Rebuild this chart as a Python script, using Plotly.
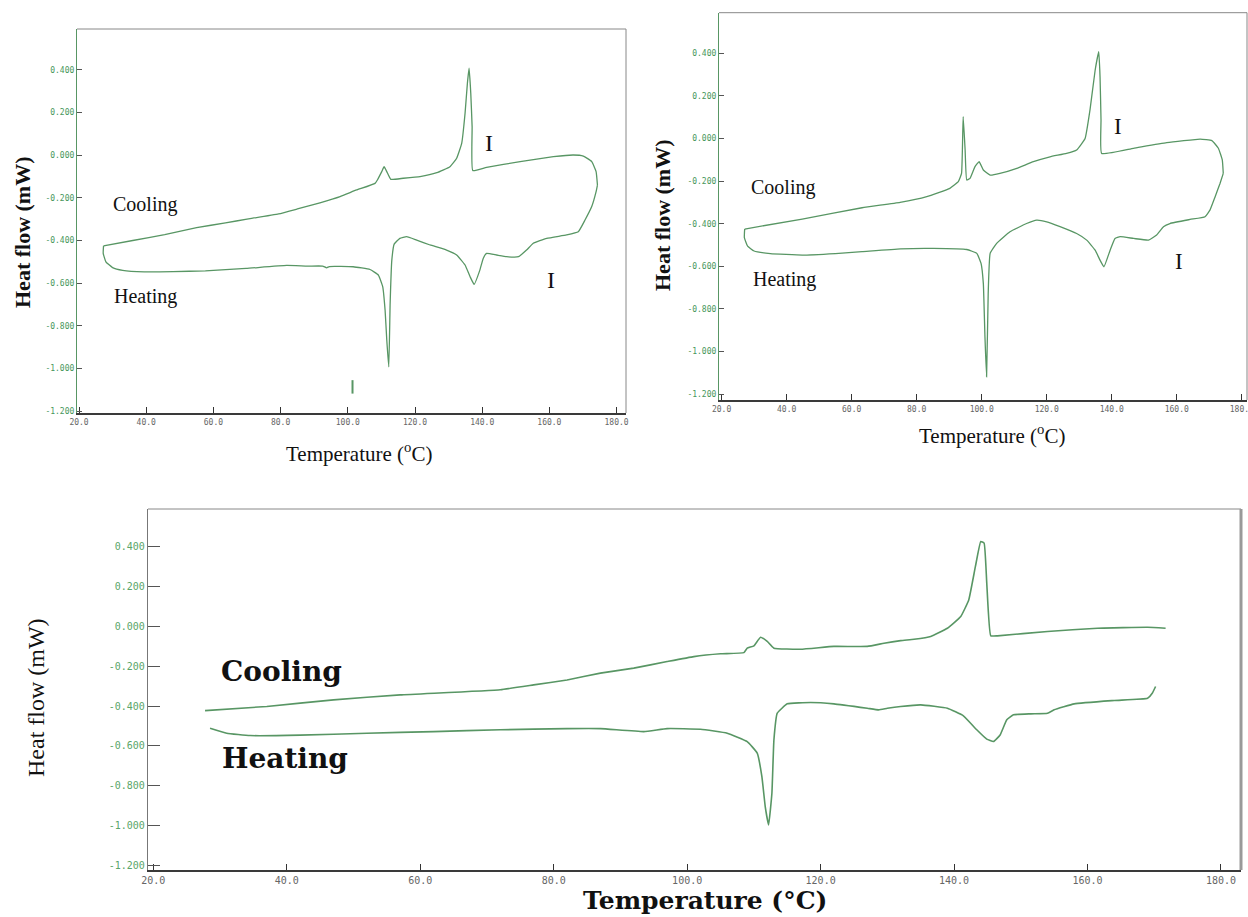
import plotly.graph_objects as go

# ---------------- data (temperature in °C, heat flow in mW) ----------------
# Panel 1 (top-left)
p1_heat_T = [27.3, 27.2, 28.0, 30.0, 33.0, 39.4, 48.0, 57.6, 69.7, 81.8, 88.0, 92.5, 93.7, 94.5,
             101.6, 106.6, 109.1, 110.4, 111.1, 111.6, 112.2, 112.6, 113.1, 113.8, 115.5, 117.5,
             120.5, 124.5, 129.4, 132.4, 134.9, 136.4, 137.6, 139.3, 140.3, 141.3, 144.3, 147.3,
             150.8, 153.2, 155.2, 159.2, 165.1, 168.6, 170.6, 172.6, 173.9, 174.3]
p1_heat_HF = [-0.425, -0.46, -0.50, -0.527, -0.540, -0.547, -0.546, -0.542, -0.531, -0.517, -0.520,
              -0.520, -0.528, -0.522, -0.523, -0.536, -0.562, -0.617, -0.727, -0.867, -0.993,
              -0.695, -0.492, -0.417, -0.390, -0.382, -0.398, -0.421, -0.445, -0.468, -0.515,
              -0.570, -0.606, -0.539, -0.484, -0.460, -0.468, -0.476, -0.476, -0.445, -0.413,
              -0.390, -0.374, -0.359, -0.304, -0.241, -0.171, -0.140]
p1_cool_T = [174.3, 173.9, 172.6, 170.1, 167.1, 161.2, 151.3, 141.3, 137.2, 137.0, 136.6, 136.1,
             135.6, 134.9, 133.9, 132.4, 130.4, 126.5, 121.5, 116.5, 112.8, 111.6, 110.8, 110.1,
             108.8, 108.1, 102.6, 97.7, 91.7, 85.0, 79.4, 70.0, 63.6, 55.0, 45.5, 36.0, 27.3]
p1_cool_HF = [-0.140, -0.077, -0.030, -0.004, 0.001, -0.007, -0.030, -0.057, -0.072, 0.134, 0.291,
              0.408, 0.338, 0.197, 0.056, -0.014, -0.054, -0.082, -0.100, -0.108, -0.113, -0.077,
              -0.054, -0.077, -0.116, -0.132, -0.163, -0.194, -0.223, -0.252, -0.275, -0.300,
              -0.317, -0.340, -0.372, -0.400, -0.425]
p1_mark_T = [101.4, 101.4]
p1_mark_HF = [-1.055, -1.118]

# Panel 2 (top-right)
p2_heat_T = [27.1, 27.0, 28.0, 30.0, 35.0, 44.8, 55.0, 63.2, 75.0, 85.1, 95.4, 98.5, 99.8, 100.5,
             101.0, 101.5, 102.0, 102.6, 104.6, 108.7, 113.8, 116.9, 120.0, 124.1, 129.2, 132.3,
             134.9, 136.4, 137.6, 139.5, 141.0, 142.6, 146.7, 151.3, 153.8, 155.9, 157.9, 164.1,
             168.7, 170.2, 171.8, 173.3, 174.3]
p2_heat_HF = [-0.425, -0.465, -0.505, -0.528, -0.540, -0.547, -0.540, -0.531, -0.518, -0.516,
              -0.521, -0.539, -0.586, -0.680, -0.930, -1.118, -0.727, -0.539, -0.492, -0.438,
              -0.399, -0.383, -0.391, -0.414, -0.446, -0.477, -0.524, -0.571, -0.602, -0.524,
              -0.469, -0.461, -0.469, -0.477, -0.453, -0.414, -0.399, -0.380, -0.367, -0.336,
              -0.273, -0.211, -0.164]
p2_cool_T = [174.3, 174.0, 172.8, 170.8, 167.2, 156.9, 146.7, 136.9, 136.7, 136.4, 136.0, 134.9,
             133.3, 131.8, 129.2, 126.1, 121.0, 115.9, 110.8, 105.6, 102.6, 100.5, 99.2, 97.9,
             96.4, 95.4, 94.9, 94.3, 93.8, 92.8, 90.2, 83.1, 74.9, 63.2, 44.8, 27.1]
p2_cool_HF = [-0.164, -0.101, -0.046, -0.010, -0.003, -0.020, -0.046, -0.070, 0.087, 0.290, 0.407,
              0.321, 0.133, 0.000, -0.054, -0.070, -0.086, -0.109, -0.140, -0.164, -0.172, -0.148,
              -0.109, -0.133, -0.187, -0.195, -0.054, 0.102, -0.164, -0.203, -0.234, -0.273,
              -0.300, -0.325, -0.378, -0.425]

# Panel 3 (bottom)
p3_heat_T = [28.5, 31.0, 34.5, 42.0, 52.0, 62.0, 72.0, 82.0, 87.0, 93.5, 97.0, 102.0, 106.0, 109.0,
             110.5, 111.2, 111.7, 112.2, 112.7, 113.0, 113.5, 115.0, 118.5, 122.0, 127.0, 128.7,
             130.0, 132.0, 135.0, 139.0, 141.4, 143.4, 144.9, 145.9, 146.9, 147.9, 148.9, 151.5,
             154.0, 155.0, 158.0, 164.0, 169.0, 169.7, 170.2]
p3_heat_HF = [-0.511, -0.536, -0.548, -0.546, -0.536, -0.528, -0.519, -0.513, -0.513, -0.528,
              -0.513, -0.516, -0.536, -0.578, -0.636, -0.754, -0.904, -0.996, -0.837, -0.570,
              -0.436, -0.389, -0.382, -0.389, -0.411, -0.419, -0.411, -0.402, -0.394, -0.411,
              -0.449, -0.519, -0.566, -0.578, -0.545, -0.469, -0.444, -0.439, -0.436, -0.419,
              -0.389, -0.372, -0.361, -0.336, -0.302]
p3_cool_T = [27.75, 37.0, 47.0, 57.0, 72.0, 77.0, 82.0, 87.0, 92.0, 97.0, 101.0, 105.0, 108.5, 109.0,
             110.0, 111.0, 112.0, 113.0, 117.0, 122.0, 127.0, 129.5, 132.0, 134.0, 136.5, 139.0,
             141.0, 142.2, 143.2, 144.0, 144.5, 144.9, 145.5, 146.5, 154.0, 161.5, 169.0, 171.7]
p3_cool_HF = [-0.423, -0.402, -0.369, -0.344, -0.318, -0.294, -0.269, -0.235, -0.210, -0.177,
              -0.152, -0.138, -0.132, -0.110, -0.098, -0.055, -0.076, -0.110, -0.115, -0.101,
              -0.101, -0.085, -0.072, -0.065, -0.051, -0.010, 0.049, 0.132, 0.300, 0.425, 0.417,
              0.216, -0.048, -0.048, -0.026, -0.010, -0.005, -0.010]

# tick values / labels
x_tick_vals = [20, 40, 60, 80, 100, 120, 140, 160, 180]
x_tick_text = ["20.0", "40.0", "60.0", "80.0", "100.0", "120.0", "140.0", "160.0", "180.0"]
y_tick_vals = [0.4, 0.2, 0.0, -0.2, -0.4, -0.6, -0.8, -1.0, -1.2]
y_tick_text = ["0.400", "0.200", "0.000", "-0.200", "-0.400", "-0.600", "-0.800", "-1.000", "-1.200"]

# ---------------- figure ----------------
W, H = 1248, 917
GREEN = "rgb(88,150,100)"
fig = go.Figure()


def add_line(xs, ys, n, width, color=GREEN, smooth=True):
    sfx = "" if n == 1 else str(n)
    line = dict(color=color, width=width)
    if smooth:
        line.update(shape="spline", smoothing=0.35)
    fig.add_trace(go.Scatter(x=xs, y=ys, mode="lines", line=line,
                             xaxis="x" + sfx, yaxis="y" + sfx, showlegend=False,
                             hoverinfo="skip"))


add_line(p1_heat_T, p1_heat_HF, 1, 1.3)
add_line(p1_cool_T, p1_cool_HF, 1, 1.3)
add_line(p1_mark_T, p1_mark_HF, 1, 2, smooth=False)
add_line(p2_heat_T, p2_heat_HF, 2, 1.3)
add_line(p2_cool_T, p2_cool_HF, 2, 1.3)
add_line(p3_heat_T, p3_heat_HF, 3, 1.6)
add_line(p3_cool_T, p3_cool_HF, 3, 1.6)


def px_dom_x(a, b):
    return [a / W, b / W]


def px_dom_y(top, bottom):
    return [1 - bottom / H, 1 - top / H]


def xaxis(dom, rng, anchor, fs, tlen):
    return dict(domain=dom, range=rng, anchor=anchor, tickmode="array", tickvals=x_tick_vals,
                ticktext=x_tick_text, ticks="inside", ticklen=tlen, tickwidth=1.2,
                tickcolor="#333", showline=True, linecolor="#3a3a3a", linewidth=2,
                showgrid=False, zeroline=False, automargin=False, fixedrange=True,
                ticklabeloverflow="allow",
                tickfont=dict(family="DejaVu Sans Mono", size=fs, color="#666"))


def yaxis(dom, rng, anchor, fs, tlen, lcolor, fcolor):
    return dict(domain=dom, range=rng, anchor=anchor, tickmode="array", tickvals=y_tick_vals,
                ticktext=y_tick_text, ticks="inside", ticklen=tlen, tickwidth=1,
                tickcolor="#555", showline=True, linecolor=lcolor, linewidth=1.2,
                showgrid=False, zeroline=False, automargin=False, fixedrange=True,
                ticklabeloverflow="allow",
                tickfont=dict(family="DejaVu Sans Mono", size=fs, color=fcolor))


fig.update_layout(
    width=W, height=H, autosize=False,
    margin=dict(l=0, r=0, t=0, b=0),
    paper_bgcolor="white", plot_bgcolor="white",
    xaxis=xaxis(px_dom_x(77, 626), [19.4, 182.8], "y", 8, 6),
    yaxis=yaxis(px_dom_y(29, 413), [-1.209, 0.592], "x", 8, 5, GREEN, "rgb(70,150,90)"),
    xaxis2=xaxis(px_dom_x(719, 1247), [19.2, 181.6], "y2", 8, 6),
    yaxis2=yaxis(px_dom_y(12.7, 400), [-1.227, 0.59], "x2", 8, 5, GREEN, "rgb(70,150,90)"),
    xaxis3=xaxis(px_dom_x(148, 1241), [19.2, 183.0], "y3", 10, 6),
    yaxis3=yaxis(px_dom_y(509, 870), [-1.222, 0.588], "x3", 10, 12, "#777", "rgb(90,165,105)"),
)

# frame lines (top & right)
for n, rw, rc in [(1, 1, "#888"), (2, 1, "#888"), (3, 3, "#999")]:
    sfx = "" if n == 1 else str(n)
    fig.add_shape(type="line", xref="x" + sfx + " domain", yref="y" + sfx + " domain",
                  x0=0, x1=1, y0=1, y1=1, line=dict(color="#888", width=1))
    fig.add_shape(type="line", xref="x" + sfx + " domain", yref="y" + sfx + " domain",
                  x0=1, x1=1, y0=0, y1=1, line=dict(color=rc, width=rw))

SERIF = "Liberation Serif"


def data_text(txt, x, y, n, size, family=SERIF, bold=False):
    sfx = "" if n == 1 else str(n)
    t = "<b>" + txt + "</b>" if bold else txt
    fig.add_annotation(x=x, y=y, xref="x" + sfx, yref="y" + sfx, text=t, showarrow=False,
                       xanchor="center", yanchor="middle",
                       font=dict(family=family, size=size, color="#111"))


def paper_text(txt, X, Y, size, family=SERIF, angle=0):
    fig.add_annotation(x=X / W, y=1 - Y / H, xref="paper", yref="paper", text=txt,
                       showarrow=False, xanchor="center", yanchor="middle", textangle=angle,
                       font=dict(family=family, size=size, color="#111"))


# panel 1 texts
data_text("Cooling", 39.6, -0.229, 1, 20)
data_text("Heating", 39.9, -0.664, 1, 20)
data_text("I", 142.1, 0.056, 1, 24)
data_text("I", 160.5, -0.586, 1, 24)
paper_text("<b>Heat flow (mW)</b>", 22, 232, 22, angle=-90)
paper_text("Temperature (<sup>o</sup>C)", 359, 452, 21)

# panel 2 texts
data_text("Cooling", 38.9, -0.229, 2, 20)
data_text("Heating", 39.2, -0.664, 2, 20)
data_text("I", 142.0, 0.055, 2, 23)
data_text("I", 160.8, -0.578, 2, 23)
paper_text("<b>Heat flow (mW)</b>", 663, 215, 22, angle=-90)
paper_text("Temperature (<sup>o</sup>C)", 992, 434, 21)

# panel 3 texts
data_text("Cooling", 39.25, -0.227, 3, 28, family="DejaVu Serif", bold=True)
data_text("Heating", 39.7, -0.661, 3, 28, family="DejaVu Serif", bold=True)
paper_text("Heat flow (mW)", 36, 698, 24, angle=-90)
paper_text("<b>Temperature (°C)</b>", 705, 900, 25, family="DejaVu Serif")

fig.write_html("out.html")
